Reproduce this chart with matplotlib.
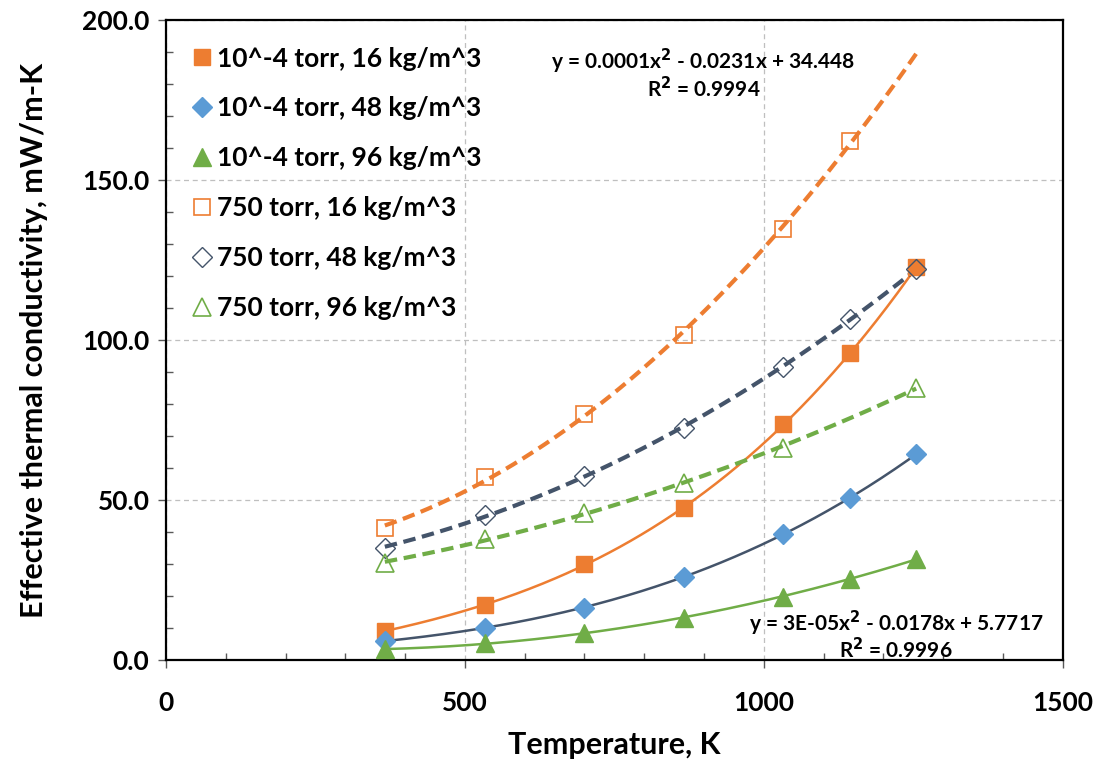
import numpy as np
import matplotlib
matplotlib.use("Agg")
import matplotlib.pyplot as plt
from matplotlib.ticker import MultipleLocator, FormatStrFormatter

plt.rcParams['font.family'] = ['Lato', 'DejaVu Sans']

# Data (temperature K, conductivity mW/m-K)
temp_all = [366, 533, 699, 866, 1033, 1144, 1255]
vac_16 = [9.1, 17.1, 29.9, 47.5, 73.6, 95.8, 122.8]
vac_48 = [5.9, 10.1, 16.4, 26.0, 39.3, 50.7, 64.3]
vac_96 = [3.3, 5.2, 8.5, 13.2, 19.8, 25.4, 31.5]
temp_d = [366, 533, 699, 866, 1033, 1144]
atm_16 = [41.2, 57.2, 76.8, 101.6, 134.7, 162.2]
atm_48 = [35.1, 45.2, 57.5, 72.6, 91.6, 106.5, 122.1]
temp_f = [366, 533, 699, 866, 1033, 1255]
atm_96 = [30.4, 37.7, 45.8, 55.4, 66.4, 85.1]

labels = ["10^-4 torr, 16 kg/m^3", "10^-4 torr, 48 kg/m^3", "10^-4 torr, 96 kg/m^3",
          "750 torr, 16 kg/m^3", "750 torr, 48 kg/m^3", "750 torr, 96 kg/m^3"]

ORANGE = "#ED7D31"
BLUE = "#5B9BD5"
GREEN = "#70AD47"
NAVY = "#44546A"

fig = plt.figure(figsize=(11, 7.68), dpi=100)
ax = fig.add_axes([0.151, 0.1406, 0.815, 0.8334])

def fitline(x, y, deg, x0, x1):
    c = np.polyfit(x, y, deg)
    xs = np.linspace(x0, x1, 200)
    return xs, np.polyval(c, xs)

# fitted / smoothed lines
xs, ys = fitline(temp_all, vac_16, 3, 366, 1255)
ax.plot(xs, ys, color=ORANGE, lw=1.8, zorder=2)
xs, ys = fitline(temp_all, vac_48, 3, 366, 1255)
ax.plot(xs, ys, color=NAVY, lw=1.8, zorder=2)
xs, ys = fitline(temp_all, vac_96, 2, 366, 1255)
ax.plot(xs, ys, color=GREEN, lw=1.8, zorder=2)
xs, ys = fitline(temp_d, atm_16, 2, 366, 1255)
ax.plot(xs, ys, color=ORANGE, lw=3, ls=(0, (3, 1.6)), zorder=2)
xs, ys = fitline(temp_all, atm_48, 2, 366, 1255)
ax.plot(xs, ys, color=NAVY, lw=3, ls=(0, (3, 1.6)), zorder=2)
xs, ys = fitline(temp_f, atm_96, 2, 366, 1255)
ax.plot(xs, ys, color=GREEN, lw=3, ls=(0, (3, 1.6)), zorder=2)

# markers
ax.plot(temp_all, vac_16, ls='none', marker='s', ms=12, color=ORANGE, label=labels[0], zorder=3)
ax.plot(temp_all, vac_48, ls='none', marker='D', ms=10, color=BLUE, label=labels[1], zorder=3)
ax.plot(temp_all, vac_96, ls='none', marker='^', ms=13, color=GREEN, label=labels[2], zorder=3)
ax.plot(temp_d, atm_16, ls='none', marker='s', ms=12, mfc='none', mec=ORANGE, mew=1.2, label=labels[3], zorder=3)
ax.plot(temp_all, atm_48, ls='none', marker='D', ms=10, mfc='none', mec=NAVY, mew=1.0, label=labels[4], zorder=3)
ax.plot(temp_f, atm_96, ls='none', marker='^', ms=13, mfc='none', mec=GREEN, mew=1.2, label=labels[5], zorder=3)

ax.set_xlim(0, 1500)
ax.set_ylim(0, 200)
ax.xaxis.set_major_locator(MultipleLocator(500))
ax.xaxis.set_minor_locator(MultipleLocator(100))
ax.yaxis.set_major_locator(MultipleLocator(50))
ax.yaxis.set_minor_locator(MultipleLocator(10))
ax.yaxis.set_major_formatter(FormatStrFormatter('%.1f'))
ax.grid(True, which='major', ls=(0, (4, 3)), color='#BFBFBF', lw=0.9)
ax.set_axisbelow(True)

ax.tick_params(which='major', direction='out', length=6, width=1, color='#595959',
               labelsize=19, pad=6)
ax.tick_params(axis='x', which='major', pad=16)
ax.tick_params(which='minor', direction='in', length=5, width=1, color='#595959')
for lbl in ax.get_xticklabels() + ax.get_yticklabels():
    lbl.set_fontweight('bold')
for s in ax.spines.values():
    s.set_color('black')
    s.set_linewidth(1.6)

ax.set_xlabel("Temperature, K", fontsize=22, fontweight='bold')
ax.set_ylabel("Effective thermal conductivity, mW/m-K", fontsize=22, fontweight='bold')
ax.xaxis.set_label_coords(0.5, -0.111)
ax.yaxis.set_label_coords(-0.132, 0.5)

leg = ax.legend(loc='upper left', frameon=False, prop={'size': 19, 'weight': 'bold'},
                handletextpad=0.05, labelspacing=0.98, borderaxespad=0.0,
                handlelength=1.0, bbox_to_anchor=(0.014, 0.975))

ax.text(899, 187, "y = 0.0001x$^{\\mathbf{2}}$ - 0.0231x + 34.448", ha='center', va='center',
        fontsize=15, fontweight='bold')
ax.text(899, 178.7, "R$^{\\mathbf{2}}$ = 0.9994", ha='center', va='center', fontsize=15, fontweight='bold')
ax.text(1468, 11.3, "y = 3E-05x$^{\\mathbf{2}}$ - 0.0178x + 5.7717", ha='right', va='center',
        fontsize=15, fontweight='bold')
ax.text(1221, 3.4, "R$^{\\mathbf{2}}$ = 0.9996", ha='center', va='center', fontsize=15, fontweight='bold')

fig.savefig("out.png", dpi=100)
